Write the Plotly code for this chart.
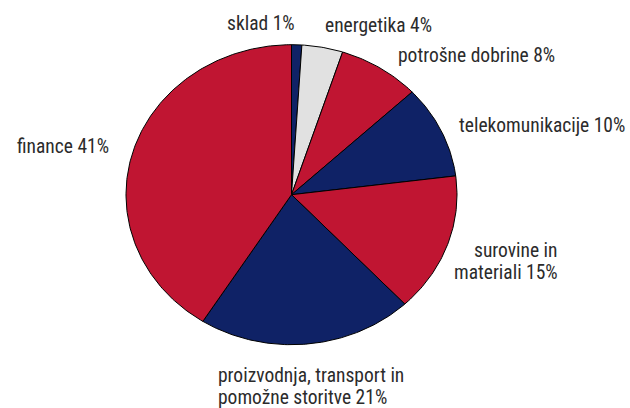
import numpy as np
import plotly.graph_objects as go

# Sector shares, listed clockwise starting at 12 o'clock
sectors = ["sklad", "energetika", "potrošne dobrine", "telekomunikacije",
           "surovine in materiali", "proizvodnja, transport in pomožne storitve", "finance"]
shares = [1, 4, 8, 10, 15, 21, 41]
label_texts = ["sklad 1%", "energetika 4%", "potrošne dobrine 8%", "telekomunikacije 10%",
               "surovine in<br>materiali 15%", "proizvodnja, transport in<br>pomožne storitve 21%",
               "finance 41%"]

NAVY = "#0f2266"
RED = "#c01532"
GREY = "#e1e1e1"
colors = [NAVY, GREY, RED, NAVY, RED, NAVY, RED]

W, H = 630, 408
# pie centre and radii in pixels (the pie is drawn slightly flattened)
CX, CY, RX, RY = 291.5, 194.7, 165.5, 150.0
LINE_GAP = 22  # pixel distance between lines of a wrapped label

fig = go.Figure()

total = sum(shares)
start = 0.0
for name, val, col in zip(sectors, shares, colors):
    a0 = start / total * 2 * np.pi
    a1 = (start + val) / total * 2 * np.pi
    t = np.linspace(a0, a1, max(int(val * 4), 8))
    xs = np.concatenate([[0], np.sin(t), [0]])
    ys = np.concatenate([[0], np.cos(t), [0]])
    fig.add_trace(go.Scatter(
        x=xs, y=ys, mode="lines", fill="toself", fillcolor=col,
        line=dict(color="black", width=1), name=name, hoverinfo="name",
        showlegend=False,
    ))
    start += val

# label anchors in pixel space (first line centre): (x, y, xanchor)
label_pos = [
    (297, 23, "right"),
    (323, 25, "left"),
    (396, 56, "left"),
    (457, 125, "left"),
    (560, 250, "right"),
    (216, 375, "left"),
    (111, 146, "right"),
]
font = dict(family="Liberation Sans Narrow, Arial Narrow, Roboto Condensed, sans-serif",
            size=19.5, color="#2b2b2b")
for txt, (px, py, xa) in zip(label_texts, label_pos):
    for i, line in enumerate(txt.split("<br>")):
        fig.add_annotation(
            x=px / W, y=1 - (py + i * LINE_GAP) / H, xref="paper", yref="paper",
            text=line, showarrow=False, xanchor=xa, yanchor="middle",
            font=font,
        )

fig.update_layout(
    width=W, height=H,
    margin=dict(l=0, r=0, t=0, b=0),
    paper_bgcolor="white", plot_bgcolor="white",
    xaxis=dict(range=[-CX / RX, (W - CX) / RX], visible=False, fixedrange=True),
    yaxis=dict(range=[-(H - CY) / RY, CY / RY], visible=False, fixedrange=True),
    showlegend=False,
)

fig.write_html("out.html")
